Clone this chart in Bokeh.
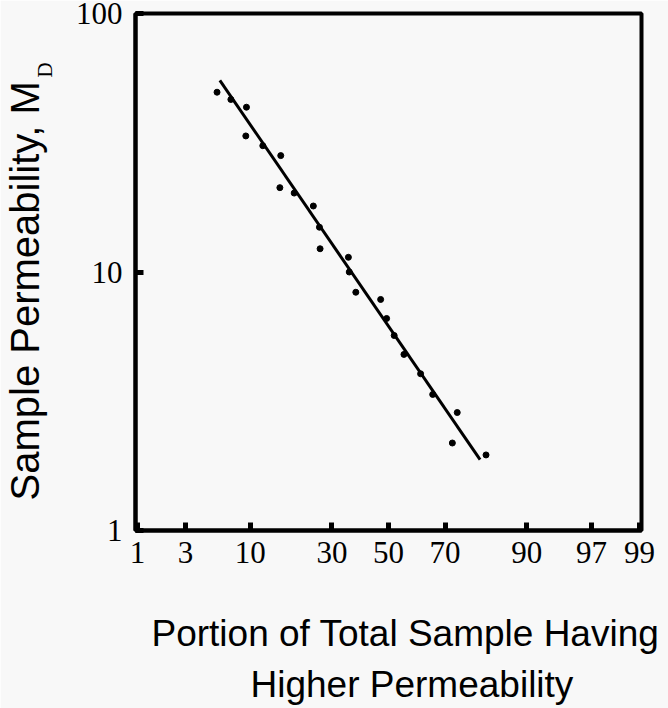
from statistics import NormalDist

from bokeh.embed import file_html
from bokeh.models import CustomJSTickFormatter, FixedTicker, Range1d, Title
from bokeh.plotting import figure
from bokeh.resources import INLINE

# Portion of the sample with higher permeability (%) and the measured permeability (mD)
pct_higher = [5.6, 7.2, 9.4, 9.3, 12.2, 15.9, 15.7, 19.1, 24.3, 26.1, 26.3, 35.5,
              35.8, 38.1, 47.1, 49.3, 52.1, 55.7, 61.7, 65.9, 73.8, 72.3, 81.7]
permeability_md = [49.6, 46.5, 43.4, 33.6, 30.8, 28.2, 21.2, 20.2, 18.0, 14.9, 12.3, 11.4,
                   10.0, 8.35, 7.83, 6.61, 5.68, 4.80, 4.04, 3.36, 2.86, 2.18, 1.96]

# Fitted log-normal line (end points)
fit_pct = [5.9, 80.2]
fit_md = [55.1, 1.88]

prob_ticks = [1, 3, 10, 30, 50, 70, 90, 97, 99]
perm_ticks = [1, 10, 100]

_nd = NormalDist()


def probit(pcts):
    """Map percentages onto a normal-probability axis (standard normal quantiles)."""
    return [_nd.inv_cdf(v / 100.0) for v in pcts]


BG = "#f8f8f8"
SERIF = "Liberation Serif"
SANS = "Liberation Sans"

p = figure(
    width=668, height=708,
    x_range=Range1d(-2.345, 2.345),
    y_range=Range1d(1, 100),
    y_axis_type="log",
    output_backend="svg",
    toolbar_location=None,
    min_border_left=135, min_border_right=27,
    min_border_top=13, min_border_bottom=178,
)
p.background_fill_color = BG
p.border_fill_color = BG
p.outline_line_color = "black"
p.outline_line_width = 4
p.grid.visible = False

# probability x axis
p.xaxis.ticker = FixedTicker(ticks=probit(prob_ticks))
p.xaxis.formatter = CustomJSTickFormatter(
    args=dict(labels=[str(t) for t in prob_ticks]), code="return labels[index];")
# log y axis
p.yaxis.ticker = FixedTicker(ticks=perm_ticks)
p.yaxis.formatter = CustomJSTickFormatter(code="return tick.toFixed(0);")

for ax in (p.xaxis, p.yaxis):
    ax.axis_line_width = 4
    ax.axis_line_color = "black"
    ax.major_tick_in = 8
    ax.major_tick_out = 0
    ax.major_tick_line_width = 5
    ax.minor_tick_line_color = None
    ax.major_label_text_font = SERIF
    ax.major_label_text_font_size = "31px"
    ax.major_label_text_color = "black"
p.xaxis.major_label_standoff = 11
p.yaxis.major_label_standoff = 13

p.line(probit(fit_pct), fit_md, line_color="black", line_width=3)
p.scatter(probit(pct_higher), permeability_md, size=6, color="black")

# y-axis title: subscript "D" sits between the axis and the main text
p.add_layout(Title(text="D", align="left", offset=453,
                   text_font=SERIF, text_font_size="21px", text_font_style="normal",
                   text_color="black", standoff=32), "left")
p.add_layout(Title(text="Sample Permeability, M", align="left", offset=30,
                   text_font=SANS, text_font_size="40px", text_font_style="normal",
                   text_color="black", standoff=-64), "left")

# x-axis title, two lines
p.add_layout(Title(text="Portion of Total Sample Having", align="left", offset=16,
                   text_font=SANS, text_font_size="37px", text_font_style="normal",
                   text_color="black", standoff=95, vertical_align="top"), "below")
p.add_layout(Title(text="Higher Permeability", align="left", offset=115,
                   text_font=SANS, text_font_size="37px", text_font_style="normal",
                   text_color="black", standoff=-80, vertical_align="top"), "below")

open("out.html", "w").write(file_html(p, INLINE))
